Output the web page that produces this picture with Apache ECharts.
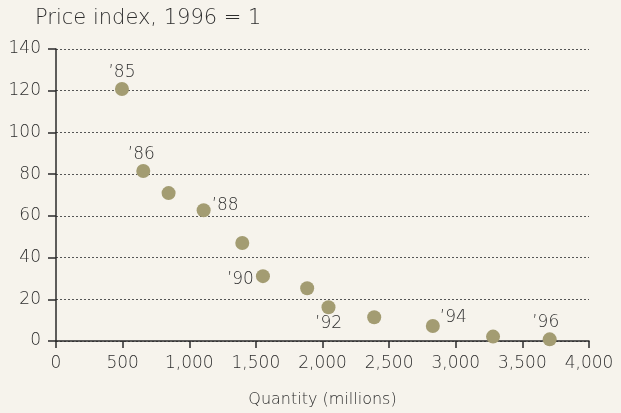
<!DOCTYPE html>
<html>
<head>
<meta charset="utf-8">
<script src="https://cdn.jsdelivr.net/npm/echarts@6/dist/echarts.min.js"></script>
<style>
  html, body { margin: 0; padding: 0; background: #f6f3ec; }
  #chart { width: 621px; height: 413px; }
</style>
</head>
<body>
<div id="chart"></div>
<script>
// data
const quantity   = [495, 655, 845, 1108, 1398, 1553, 1885, 2045, 2388, 2828, 3280, 3705];
const priceIndex = [120.8, 81.5, 70.9, 62.7, 47, 31.1, 25.3, 16.2, 11.4, 7.2, 2.1, 0.8];
const yearLabels = ['\u201985', '\u201986', '', '\u201988', '', '\u201990', '', '\u201992', '', '\u201994', '', '\u201996'];
const xTicks = [0, 500, 1000, 1500, 2000, 2500, 3000, 3500, 4000];
const yTicks = [0, 20, 40, 60, 80, 100, 120, 140];

// where each year label sits around its dot
const labelPlace = {
    0: { position: 'top', distance: 1 },
    1: { position: 'top', distance: 1, offset: [-2, 0] },
    3: { position: 'right', distance: 1, offset: [0, -5] },
    5: { position: 'left', distance: 2, offset: [0, 3] },
    7: { position: 'bottom', distance: 1, offset: [0, 0] },
    9: { position: 'right', distance: 0, offset: [0, -8] },
    11: { position: 'top', distance: 1, offset: [-4, 0] }
};

const font = 'DejaVu Sans';
const weight = 200;
const textColor = '#2e2e2e';

const chart = echarts.init(document.getElementById('chart'));

chart.setOption({
    backgroundColor: '#f6f3ec',
    animation: false,
    textStyle: { fontFamily: font },
    title: {
        text: 'Price index, 1996 = 1',
        left: 30,
        top: 3,
        textStyle: { fontFamily: font, fontWeight: weight, fontSize: 21, color: textColor }
    },
    grid: { left: 56, right: 32, top: 49, bottom: 72, containLabel: false },
    xAxis: {
        type: 'value',
        min: xTicks[0],
        max: xTicks[xTicks.length - 1],
        interval: 500,
        name: 'Quantity (millions)',
        nameLocation: 'middle',
        nameGap: 51,
        nameTextStyle: { fontFamily: font, fontWeight: weight, fontSize: 16, color: textColor },
        axisLine: { lineStyle: { color: '#2a2a2a', width: 1.5 } },
        axisTick: { show: true, length: 7, lineStyle: { color: '#2a2a2a', width: 1.5 } },
        axisLabel: {
            margin: 14,
            fontFamily: font, fontWeight: weight, fontSize: 17, color: textColor,
            formatter: v => v.toLocaleString('en-US')
        },
        splitLine: { show: false }
    },
    yAxis: {
        type: 'value',
        min: yTicks[0],
        max: yTicks[yTicks.length - 1],
        interval: 20,
        axisLine: { show: true, lineStyle: { color: '#2a2a2a', width: 1.5 } },
        axisTick: { show: true, length: 8, lineStyle: { color: '#2a2a2a', width: 1.5 } },
        axisLabel: { margin: 15, fontFamily: font, fontWeight: weight, fontSize: 17, color: textColor },
        splitLine: { show: true, lineStyle: { color: '#555', type: [2, 2], width: 1 } }
    },
    series: [{
        type: 'scatter',
        symbolSize: 14,
        itemStyle: { color: '#a39c72', opacity: 1 },
        data: quantity.map((q, i) => {
            const item = { value: [q, priceIndex[i]] };
            if (yearLabels[i]) {
                item.label = Object.assign({
                    show: true,
                    formatter: yearLabels[i],
                    fontFamily: font, fontWeight: weight, fontSize: 17, color: textColor
                }, labelPlace[i]);
            }
            return item;
        })
    }]
});
</script>
</body>
</html>
